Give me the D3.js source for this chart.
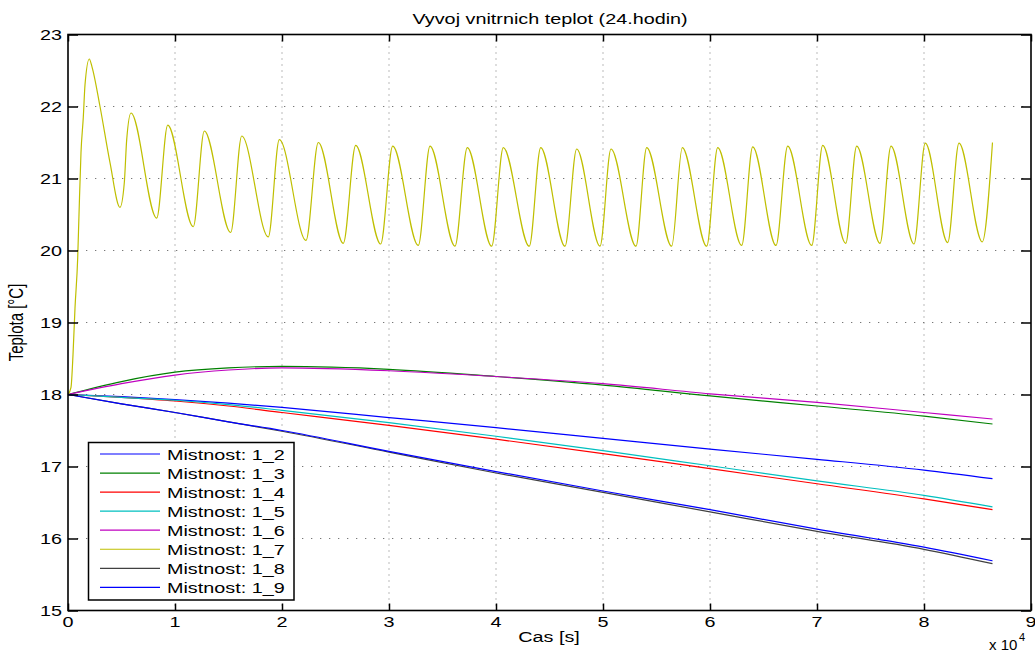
<!DOCTYPE html>
<html>
<head>
<meta charset="utf-8">
<script src="https://cdn.jsdelivr.net/npm/d3@7"></script>
<style>
  html, body { margin: 0; padding: 0; background: #fff; }
  svg { display: block; }
  text { font-family: "Liberation Sans", Arial, Helvetica, sans-serif; fill: #000; }
</style>
</head>
<body>
<svg id="chart" width="1035" height="652"></svg>
<script>
// Time axis (s) shared by the slowly varying rooms
const timeGrid = [0, 5000, 10000, 15000, 20000, 30000, 40000, 50000, 60000, 70000, 80000, 86400];

const room_1_2 = [18.0, 17.97, 17.93, 17.88, 17.82, 17.68, 17.54, 17.39, 17.24, 17.10, 16.95, 16.83];
const room_1_3 = [18.0, 18.18, 18.31, 18.37, 18.39, 18.35, 18.25, 18.13, 17.98, 17.84, 17.70, 17.59];
const room_1_4 = [18.0, 17.96, 17.91, 17.84, 17.75, 17.57, 17.38, 17.18, 16.97, 16.76, 16.55, 16.40];
const room_1_5 = [18.0, 17.96, 17.92, 17.86, 17.78, 17.61, 17.42, 17.22, 17.01, 16.80, 16.60, 16.44];
const room_1_6 = [18.0, 18.15, 18.27, 18.34, 18.37, 18.33, 18.25, 18.15, 18.01, 17.89, 17.75, 17.66];
const room_1_8 = [18.0, 17.87, 17.75, 17.62, 17.49, 17.20, 16.91, 16.64, 16.37, 16.10, 15.85, 15.65];
const room_1_9 = [18.0, 17.87, 17.75, 17.62, 17.50, 17.21, 16.93, 16.66, 16.40, 16.13, 15.88, 15.69];

// Heated room 1_7: thermostat cycling (turning points, s / °C)
const room_1_7_time = [
  0, 280, 467, 654, 907, 1028, 1215, 1430, 1589, 1991, 2243, 2991, 3925, 4860, 5262, 5486, 5888,
  8290, 9318, 11710, 12738, 15206, 16234, 18720, 19748, 22243, 23393, 25729, 26888,
  29224, 30346, 32738, 33832, 36168, 37318, 39598, 40682, 43112, 44178, 46449, 47542,
  49720, 50748, 53084, 54084, 56420, 57411, 59692, 60720, 62963, 63990, 66168, 67262,
  69505, 70533, 72682, 73710, 75888, 76916, 79065, 80121, 82215, 83271, 85449, 86400
];
const room_1_7_temp = [
  18.0, 18.1, 18.55, 19.2, 19.9, 20.5, 21.36, 21.85, 22.3, 22.66, 22.55, 22.0, 21.22, 20.60, 20.94, 21.54, 21.91,
  20.45, 21.74, 20.33, 21.66, 20.25, 21.59, 20.19, 21.54, 20.14, 21.50, 20.10, 21.46,
  20.09, 21.45, 20.07, 21.45, 20.06, 21.43, 20.06, 21.43, 20.06, 21.43, 20.06, 21.41,
  20.06, 21.41, 20.06, 21.43, 20.06, 21.43, 20.06, 21.43, 20.07, 21.44, 20.07, 21.45,
  20.07, 21.46, 20.10, 21.45, 20.10, 21.45, 20.09, 21.49, 20.11, 21.49, 20.12, 21.50
];

const seriesNames = ["Mistnost: 1_2", "Mistnost: 1_3", "Mistnost: 1_4", "Mistnost: 1_5",
                     "Mistnost: 1_6", "Mistnost: 1_7", "Mistnost: 1_8", "Mistnost: 1_9"];
const seriesColors = ["#0000ff", "#008000", "#ff0000", "#00bfbf", "#bf00bf", "#bfbf00", "#404040", "#0000ff"];

const xTicks = [0, 1, 2, 3, 4, 5, 6, 7, 8, 9];          // in units of 10^4 s
const yTicks = [15, 16, 17, 18, 19, 20, 21, 22, 23];

const titleText = "Vyvoj vnitrnich teplot (24.hodin)";
const xLabel = "Cas [s]";
const yLabel = "Teplota [°C]";

// ---------------------------------------------------------------
const svg = d3.select("#chart");
const FS = 15, SX = 1.32;    // text size and horizontal stretch
const plotL = 68, plotR = 1031, plotT = 34.5, plotB = 610.5;

const x = d3.scaleLinear().domain([0, 90000]).range([plotL, plotR]);
const y = d3.scaleLinear().domain([15, 23]).range([plotB, plotT]);

function label(g, tx, ty, str, anchor, sx) {
  return g.append("text")
    .attr("transform", `translate(${tx},${ty}) scale(${sx || SX},1)`)
    .attr("text-anchor", anchor)
    .style("font-size", FS + "px")
    .text(str);
}

// grid
const grid = svg.append("g");
grid.selectAll("line.v").data(xTicks.slice(1, -1)).join("line")
  .attr("x1", d => x(d * 1e4)).attr("x2", d => x(d * 1e4))
  .attr("y1", plotT).attr("y2", plotB)
  .attr("stroke", "#777").attr("stroke-width", 1).attr("stroke-dasharray", "1,5");
grid.selectAll("line.h").data(yTicks.slice(1, -1)).join("line")
  .attr("x1", plotL).attr("x2", plotR)
  .attr("y1", d => y(d)).attr("y2", d => y(d))
  .attr("stroke", "#777").attr("stroke-width", 1).attr("stroke-dasharray", "1.3,7.7");

// series
const line = d3.line().x(d => x(d[0])).y(d => y(d[1])).curve(d3.curveMonotoneX);
const slowRooms = [room_1_2, room_1_3, room_1_4, room_1_5, room_1_6, null, room_1_8, room_1_9];
const plot = svg.append("g");
slowRooms.forEach((vals, i) => {
  const pts = vals
    ? timeGrid.map((t, k) => [t, vals[k]])
    : room_1_7_time.map((t, k) => [t, room_1_7_temp[k]]);
  plot.append("path").datum(pts)
    .attr("d", line)
    .attr("fill", "none")
    .attr("stroke", seriesColors[i])
    .attr("stroke-width", 1.2);
});

// axes box + inward ticks on all sides
const axes = svg.append("g");
axes.append("rect").attr("x", plotL).attr("y", plotT)
  .attr("width", plotR - plotL).attr("height", plotB - plotT)
  .attr("fill", "none").attr("stroke", "#000").attr("stroke-width", 1.6);

const bottomAxis = d3.axisBottom(x).tickValues(xTicks.map(d => d * 1e4)).tickSize(-7).tickFormat("");
const topAxis = d3.axisTop(x).tickValues(xTicks.map(d => d * 1e4)).tickSize(-7).tickFormat("");
const leftAxis = d3.axisLeft(y).tickValues(yTicks).tickSize(-10).tickFormat("");
const rightAxis = d3.axisRight(y).tickValues(yTicks).tickSize(-10).tickFormat("");
[[bottomAxis, `translate(0,${plotB})`], [topAxis, `translate(0,${plotT})`],
 [leftAxis, `translate(${plotL},0)`], [rightAxis, `translate(${plotR},0)`]].forEach(([ax, tr]) => {
  const g = axes.append("g").attr("transform", tr).call(ax);
  g.select(".domain").remove();
  g.selectAll(".tick line").attr("stroke", "#000").attr("stroke-width", 1.5);
});

// tick labels
const labels = svg.append("g");
xTicks.forEach(d => label(labels, x(d * 1e4), 627, String(d), "middle"));
yTicks.forEach(d => label(labels, 62, y(d) + 5.5, String(d), "end"));

// exponent of the time axis
label(labels, 989, 650, "x 10", "start", 1);
label(labels, 1019, 641, "4", "start", 1).style("font-size", "11px");

// title and axis labels
label(labels, 550, 24, titleText, "middle");
label(labels, 549, 642, xLabel, "middle");
labels.append("text")
  .attr("transform", `translate(23,${(plotT + plotB) / 2}) rotate(-90) scale(1,${SX})`)
  .attr("text-anchor", "middle")
  .style("font-size", FS + "px")
  .text(yLabel);

// legend
const lg = svg.append("g");
lg.append("rect").attr("x", 88.5).attr("y", 442.5).attr("width", 205.5).attr("height", 157.5)
  .attr("fill", "#fff").attr("stroke", "#000").attr("stroke-width", 1.5);
seriesNames.forEach((name, i) => {
  const cy = 454 + i * 19.05;
  lg.append("line").attr("x1", 100).attr("x2", 160).attr("y1", cy).attr("y2", cy)
    .attr("stroke", seriesColors[i]).attr("stroke-width", 1.2);
  label(lg, 167, cy + 5.5, name, "start");
});
</script>
</body>
</html>
